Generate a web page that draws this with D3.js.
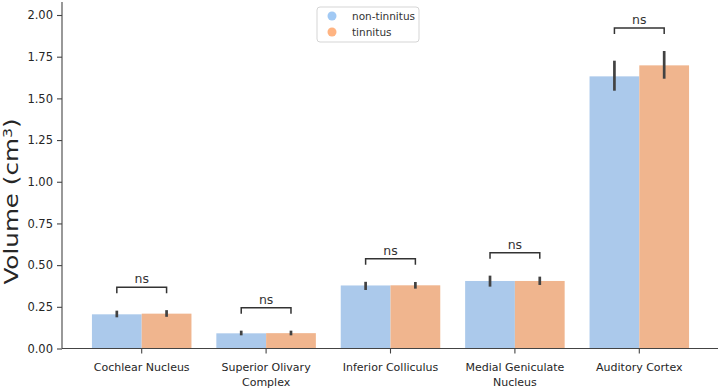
<!DOCTYPE html>
<html>
<head>
<meta charset="utf-8">
<script src="https://cdn.jsdelivr.net/npm/d3@7"></script>
<style>
  body { margin: 0; background: #fff; }
  svg text { font-family: "DejaVu Sans", sans-serif; }
</style>
</head>
<body>
<div id="chart"></div>
<script>
// data
const regions = ["Cochlear Nucleus", "Superior Olivary Complex", "Inferior Colliculus", "Medial Geniculate Nucleus", "Auditory Cortex"];
const regionLines = [["Cochlear Nucleus"], ["Superior Olivary", "Complex"], ["Inferior Colliculus"], ["Medial Geniculate", "Nucleus"], ["Auditory Cortex"]];
const groups = ["non-tinnitus", "tinnitus"];
const nonTinnitus = [0.205, 0.091, 0.378, 0.405, 1.632];
const tinnitus = [0.209, 0.092, 0.379, 0.405, 1.698];
const nonTinnitusLow = [0.187, 0.079, 0.351, 0.371, 1.546];
const nonTinnitusHigh = [0.227, 0.107, 0.400, 0.437, 1.726];
const tinnitusLow = [0.190, 0.079, 0.359, 0.381, 1.618];
const tinnitusHigh = [0.230, 0.107, 0.399, 0.431, 1.784];
const yTicks = [0, 0.25, 0.5, 0.75, 1.0, 1.25, 1.5, 1.75, 2.0];

const barColors = ["#abc9eb", "#f0b58e"];
const markerColors = ["#a1c9f4", "#ffb482"];

const width = 720, height = 389;
const svg = d3.select("#chart").append("svg")
    .attr("width", width)
    .attr("height", height);

const x = d3.scaleBand()
    .domain(regions)
    .range([79.5, 701.5]);

const xInner = d3.scaleBand()
    .domain(groups)
    .range([0, x.bandwidth() * 0.8]);

const y = d3.scaleLinear()
    .domain([0, 2.078])
    .range([348.5, 2]);

const rows = regions.map((r, i) => ({
    region: r,
    lines: regionLines[i],
    vals: [
        {g: groups[0], v: nonTinnitus[i], lo: nonTinnitusLow[i], hi: nonTinnitusHigh[i]},
        {g: groups[1], v: tinnitus[i], lo: tinnitusLow[i], hi: tinnitusHigh[i]}
    ]
}));

const barX = (r, g) => x(r) + x.bandwidth() * 0.1 + xInner(g);
const barMid = (r, g) => barX(r, g) + xInner.bandwidth() / 2;

// bars
const grp = svg.selectAll(".region")
    .data(rows)
    .enter().append("g")
    .attr("class", "region");

grp.selectAll("rect")
    .data(d => d.vals.map(v => Object.assign({region: d.region}, v)))
    .enter().append("rect")
    .attr("x", d => barX(d.region, d.g))
    .attr("y", d => y(d.v))
    .attr("width", xInner.bandwidth())
    .attr("height", d => y(0) - y(d.v))
    .attr("fill", (d, i) => barColors[i]);

// error bars
grp.selectAll("line.err")
    .data(d => d.vals.map(v => Object.assign({region: d.region}, v)))
    .enter().append("line")
    .attr("class", "err")
    .attr("x1", d => barMid(d.region, d.g))
    .attr("x2", d => barMid(d.region, d.g))
    .attr("y1", d => y(d.lo))
    .attr("y2", d => y(d.hi))
    .attr("stroke", "#424242")
    .attr("stroke-width", 2.7);

// "ns" brackets
grp.each(function(d) {
    const g = d3.select(this);
    const top = d3.max(d.vals, v => v.hi);
    const legBottom = y(top) - 17;
    const barTop = legBottom - 6;
    const x1 = barMid(d.region, groups[0]);
    const x2 = barMid(d.region, groups[1]);
    g.append("path")
        .attr("d", `M${x1},${legBottom} L${x1},${barTop} L${x2},${barTop} L${x2},${legBottom}`)
        .attr("fill", "none")
        .attr("stroke", "#333")
        .attr("stroke-width", 1.5);
    g.append("text")
        .attr("x", (x1 + x2) / 2)
        .attr("y", barTop - 4)
        .attr("text-anchor", "middle")
        .attr("font-size", 12.5)
        .attr("fill", "#333")
        .text("ns");
});

// y axis
const yAxis = svg.append("g")
    .attr("transform", "translate(62,0)")
    .call(d3.axisLeft(y).tickValues(yTicks).tickFormat(d3.format(".2f")).tickSize(5).tickPadding(4));
yAxis.select(".domain").attr("d", `M0,${y(0)}V${y.range()[1]}`);

// x axis
const xAxis = svg.append("g")
    .attr("transform", `translate(0,${y(0)})`)
    .call(d3.axisBottom(x).tickSize(5).tickFormat(""));
xAxis.select(".domain").attr("d", "M62,0H718");

[yAxis, xAxis].forEach(a => {
    a.select(".domain").attr("stroke", "#444").attr("stroke-width", 1.1);
    a.selectAll(".tick line").attr("stroke", "#444").attr("stroke-width", 1.1);
});
yAxis.selectAll(".tick text")
    .attr("font-family", "DejaVu Sans")
    .attr("font-size", 11.5)
    .attr("fill", "#262626");

// two-line region labels
xAxis.selectAll(".tick").each(function(r, i) {
    const t = d3.select(this).append("text")
        .attr("y", 18.5)
        .attr("text-anchor", "middle")
        .attr("font-family", "'Liberation Sans', Arial, sans-serif")
        .attr("font-size", 11)
        .attr("fill", "#262626");
    regionLines[i].forEach((line, k) => {
        t.append("tspan")
            .attr("x", 0)
            .attr("dy", k === 0 ? "0.32em" : 15)
            .text(line);
    });
});

// y label (stretched along its length to match the reference)
svg.append("text")
    .attr("transform", "translate(18,201.5) rotate(-90) scale(1.12,0.85)")
    .attr("text-anchor", "middle")
    .attr("font-size", 22)
    .attr("fill", "#262626")
    .html("Volume (cm<tspan dy='-7' font-size='14'>3</tspan><tspan dy='7'>)</tspan>");

// legend
const legend = svg.append("g").attr("transform", "translate(317,7)");
legend.append("rect")
    .attr("width", 102)
    .attr("height", 35)
    .attr("rx", 3)
    .attr("fill", "#fff")
    .attr("stroke", "#d5d5d5");
const items = legend.selectAll(".item")
    .data(groups)
    .enter().append("g")
    .attr("transform", (d, i) => `translate(0,${9 + i * 16})`);
items.append("circle")
    .attr("cx", 15)
    .attr("r", 4.5)
    .attr("fill", (d, i) => markerColors[i]);
items.append("text")
    .attr("x", 35)
    .attr("dy", "0.35em")
    .attr("font-size", 10.5)
    .attr("fill", "#333")
    .text(d => d);
</script>
</body>
</html>
